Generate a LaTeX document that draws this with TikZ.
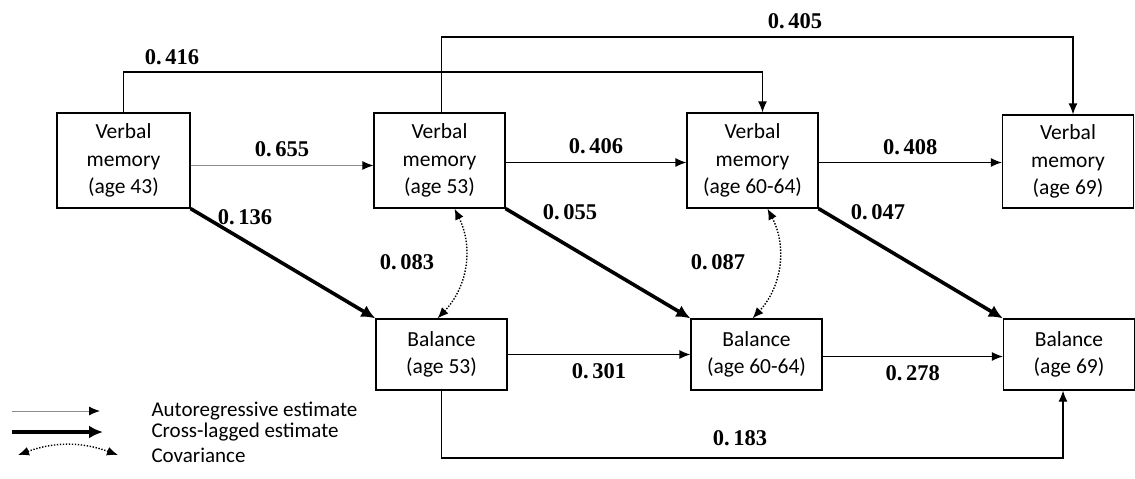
\documentclass[tikz,border=0pt]{standalone}
\usepackage{amsmath}
\usepackage{fontspec}
\setmainfont{Carlito}
\newfontfamily\numfont{Liberation Serif}
\usepackage{tikz}
\usetikzlibrary{arrows.meta,positioning}

\tikzset{
    var/.style={draw, line width=1.2pt, align=center, minimum width=131pt, minimum height=95pt,
        font=\fontsize{21.5}{27.5}\selectfont, inner sep=2pt},
    bal/.style={var, minimum height=71pt},
    est/.style={font=\numfont\bfseries\fontsize{22.5}{24}\selectfont},
    auto/.style={line width=1.2pt, -{Latex[length=11pt,width=9pt]}},
    autogray/.style={line width=1pt, draw=black!45, -{Latex[length=11pt,width=9pt,color=black]}},
    cross/.style={line width=3.6pt, -{Latex[length=14pt,width=13pt]}},
    cov/.style={line width=1.4pt, dash pattern=on 1.4pt off 1.6pt,
        {Latex[length=11pt,width=9pt]}-{Latex[length=11pt,width=9pt]}}
}

\begin{document}
\begin{tikzpicture}[x=1pt,y=-1pt]
        \useasboundingbox (0,0) rectangle (1135,479);
        % boxes
        \node[var, minimum width=133pt] (vm43) at (123.5,160.5) {Verbal\\memory\\(age 43)};
        \node[var] (vm53) at (439.5,160.5) {Verbal\\memory\\(age 53)};
        \node[var] (vm60) at (752.5,160.5) {Verbal\\memory\\(age 60-64)};
        \node[var, minimum height=93pt] (vm69) at (1068,161.5) {Verbal\\memory\\(age 69)};
        \node[bal] (b53) at (441.5,354.5) {Balance\\(age 53)};
        \node[bal] (b60) at (756.5,354.5) {Balance\\(age 60-64)};
        \node[bal] (b69) at (1069,354.5) {Balance\\(age 69)};
        % autoregressive
        \draw[autogray] ([yshift=-5pt]vm43.east) -- ([yshift=-5pt]vm43.east -| vm53.west)
        node[midway, above=5pt, est, black] {0.\,655};
        \draw[auto] ([yshift=-2pt]vm53.east) -- ([yshift=-2pt]vm53.east -| vm60.west)
        node[midway, above=5pt, est] {0.\,406};
        \draw[auto] ([yshift=-2pt]vm60.east) -- ([yshift=-2pt]vm60.east -| vm69.west)
        node[midway, above=4pt, est] {0.\,408};
        \draw[auto] (b53.east) -- (b53.east -| b60.west)
        node[midway, below=5pt, est] {0.\,301};
        \draw[auto] ([yshift=-2pt]b60.east) -- ([yshift=-2pt]b60.east -| b69.west)
        node[midway, below=5pt, est] {0.\,278};
        \draw[auto] (vm43.north) |- (124,72) -| ([xshift=10pt]vm60.north);
        \node[est] (l416) at (172,57) {0.\,416};
        \draw[auto] ([xshift=2pt]vm53.north) |- (442,37) -| ([xshift=5pt]vm69.north);
        \node[est] (l405) at (795,21) {0.\,405};
        \draw[auto] (b53.south) |- (442,458) -| ([xshift=-6pt]b69.south);
        \node[est] (l183) at (740,438) {0.\,183};
        % cross-lagged
        \draw[cross] (vm43.south east) -- (b53.north west);
        \node[est] (l136) at (245,217) {0.\,136};
        \draw[cross] (vm53.south east) -- (b60.north west);
        \node[est] (l055) at (570,212) {0.\,055};
        \draw[cross] (vm60.south east) -- (b69.north west);
        \node[est] (l047) at (878,212) {0.\,047};
        % covariance
        \draw[cov] ([xshift=15pt]vm53.south) to[bend left=35] ([xshift=-4pt]b53.north);
        \node[est] (l083) at (407,262) {0.\,083};
        \draw[cov] ([xshift=15pt]vm60.south) to[bend left=35] ([xshift=-4pt]b60.north);
        \node[est] (l087) at (718,262) {0.\,087};
        % legend
        \coordinate (ar1) at (12,411);
        \coordinate (ar2) at (100,411);
        \coordinate (cl1) at (12,432);
        \coordinate (cl2) at (103,432);
        \coordinate (cv1) at (18,455);
        \coordinate (cv2) at (118,455);
        \draw[autogray] (ar1) -- (ar2);
        \draw[cross] (cl1) -- (cl2);
        \draw[cov] (cv1) to[bend left=20] (cv2);
        \node[anchor=west, font=\fontsize{21}{24}\selectfont] (tar) at (148,411) {Autoregressive estimate};
        \node[anchor=west, font=\fontsize{21}{24}\selectfont] (tcl) at (148,432) {Cross-lagged estimate};
        \node[anchor=west, font=\fontsize{21}{24}\selectfont] (tcv) at (148,455) {Covariance};
    \end{tikzpicture}
\end{document}
